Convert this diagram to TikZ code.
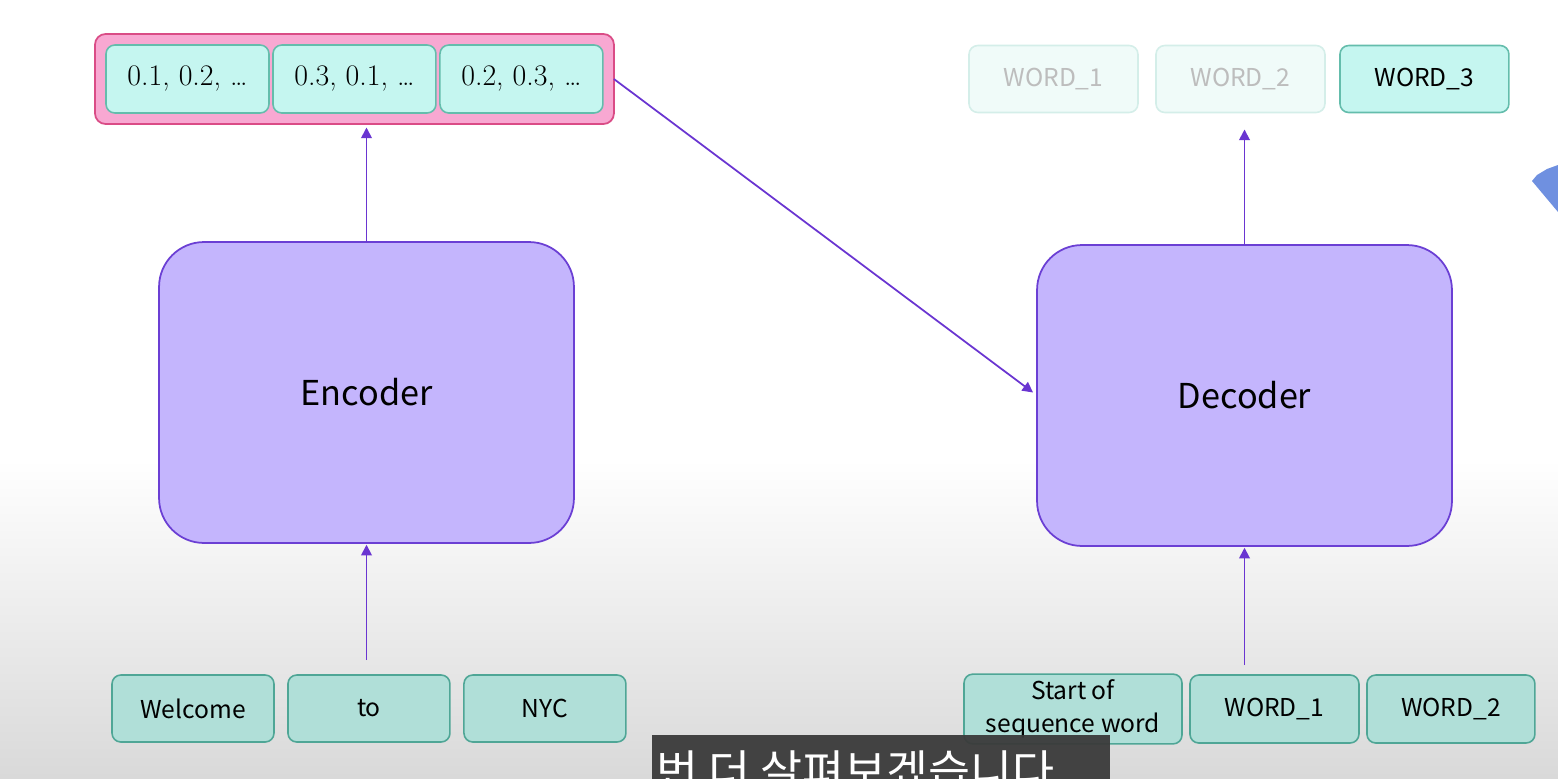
\documentclass[tikz,border=0pt]{standalone}
\usepackage{fontspec}
\newfontfamily\uifont{Noto Sans CJK KR}
\usepackage{tikz}
\usetikzlibrary{arrows.meta, positioning, fit, backgrounds}
\definecolor{encfill}{HTML}{C4B5FD}
\definecolor{encline}{HTML}{6B3FD4}
\definecolor{arrowpurple}{HTML}{6A35D1}
\definecolor{vecpink}{HTML}{F8A8D2}
\definecolor{vecline}{HTML}{DA4C86}
\definecolor{cellfill}{HTML}{C5F6F0}
\definecolor{cellline}{HTML}{64BDAC}
\definecolor{tokfill}{HTML}{B0DFD8}
\definecolor{tokline}{HTML}{4FA696}
\definecolor{fadefill}{HTML}{F0FBF9}
\definecolor{fadeline}{HTML}{D4EEE9}
\definecolor{fadetext}{HTML}{BDBDBD}
\definecolor{bggray}{HTML}{D9D9D9}
\definecolor{subbar}{HTML}{3A3A3A}
\definecolor{blobblue}{HTML}{6F90E0}

\begin{document}
\begin{tikzpicture}[
    x=0.02cm, y=-0.02cm,
    block/.style={draw=encline, fill=encfill, line width=1pt,
                  rounded corners=0.9cm, minimum width=8.3cm,
                  minimum height=6.02cm,
                  font=\uifont\fontsize{19.5}{23}\selectfont},
    cell/.style={draw=cellline, fill=cellfill, line width=0.9pt,
                 rounded corners=5pt, minimum width=3.26cm,
                 minimum height=1.36cm,
                 font=\rmfamily\fontsize{17}{20}\selectfont},
    token/.style={draw=tokline, fill=tokfill, line width=0.9pt,
                  rounded corners=5pt, minimum width=3.24cm,
                  minimum height=1.34cm, align=center,
                  font=\uifont\fontsize{14}{18.5}\selectfont},
    faded/.style={token, draw=fadeline, fill=fadefill, text=fadetext},
    arrow/.style={-{Triangle[length=6pt, width=6pt]}, line width=1pt,
                  draw=arrowpurple},
    outer sep=0pt
  ]
    \useasboundingbox (0,0) rectangle (1558,778);
    \clip (0,0) rectangle (1558,778);

    % encoder side
    \node[block] (enc) at (366.5,392.5) {Encoder};

    \node[cell] (v1) at (187.5,79) {0.1, 0.2, …};
    \node[cell, right=0.08cm of v1] (v2) {0.3, 0.1, …};
    \node[cell, right=0.08cm of v2] (v3) {0.2, 0.3, …};

    \node[token] (in1) at (193,708.5) {Welcome};
    \node[token, right=0.28cm of in1] (in2) {to};
    \node[token, right=0.28cm of in2] (in3) {NYC};

    % decoder side
    \node[block] (dec) at (1244.5,395.5) {Decoder};

    \node[faded, minimum width=3.38cm] (out1) at (1053.5,79) {WORD\_1};
    \node[faded, minimum width=3.38cm, right=0.36cm of out1] (out2) {WORD\_2};
    \node[token, fill=cellfill, draw=cellline, minimum width=3.38cm,
          right=0.3cm of out2] (out3) {WORD\_3};

    \node[token, minimum width=4.36cm, minimum height=1.36cm] (sq1)
      at (1073,709) {Start of\\sequence word};
    \node[token, minimum width=3.38cm, minimum height=1.36cm,
          right=0.16cm of sq1] (sq2) {WORD\_1};
    \node[token, minimum width=3.36cm, minimum height=1.36cm,
          right=0.16cm of sq2] (sq3) {WORD\_2};

    % background and the pink vector box
    \begin{scope}[on background layer]
      \fill[white] (0,0) rectangle (1558,460);
      \shade[top color=white, bottom color=bggray] (0,459) rectangle (1558,778);
      \fill[blobblue] (1532,181) -- (1537,175) -- (1547,169) -- (1558,165)
        -- (1558,212) -- cycle;
      \node[draw=vecline, fill=vecpink, line width=1pt, rounded corners=6pt,
            inner sep=0.22cm, fit=(v1)(v3)] (vec) {};
    \end{scope}

    % connectors
    \draw[arrow, shorten <=0.3cm, shorten >=1pt] (enc.south |- in2.north) -- (enc.south);
    \draw[arrow, shorten >=2pt] (enc.north) -- (enc.north |- vec.south);
    \draw[arrow, shorten >=0.1cm] (vec.east) -- (dec.west);
    \draw[arrow, shorten >=0.34cm] (dec.north) -- (dec.north |- out3.south);
    \draw[arrow, shorten <=0.2cm, shorten >=1pt] (dec.south |- sq2.north) -- (dec.south);

    % subtitle
    \fill[subbar, fill opacity=0.95] (652,735) rectangle (1110,790);
    \node[anchor=base west, inner sep=0pt, text=white,
          font=\uifont\fontsize{26}{30}\selectfont] (cap) at (656,788)
      {번 더 살펴보겠습니다};
\end{tikzpicture}
\end{document}
